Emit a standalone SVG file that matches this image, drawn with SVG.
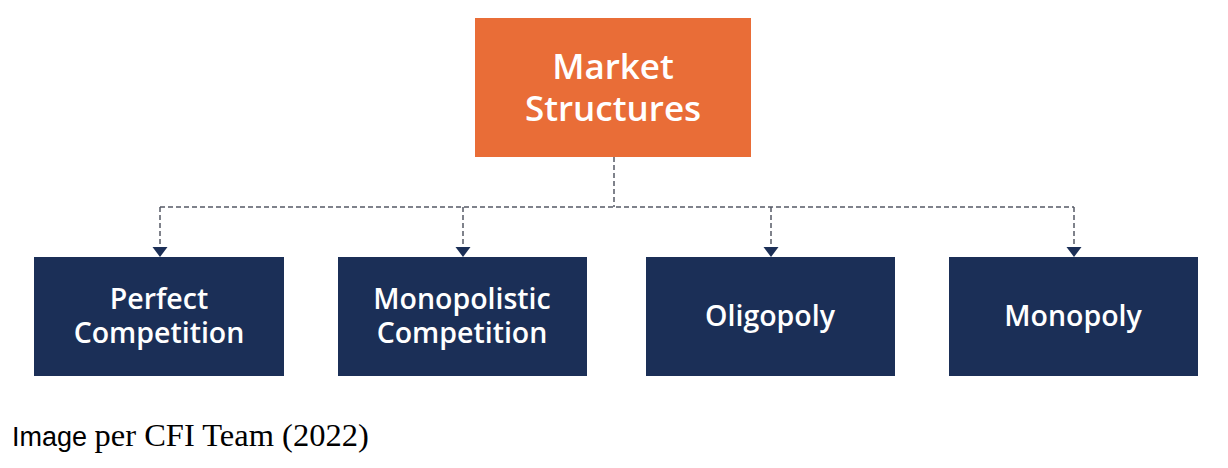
<svg xmlns="http://www.w3.org/2000/svg" width="1228" height="468" viewBox="0 0 1228 468">
<style>
.nodeText{font-family:"Open Sans","Noto Sans",sans-serif;font-weight:600;fill:#ffffff;text-anchor:middle}
.top{font-size:35px}
.sub{font-size:28.5px}
.conn{fill:none;stroke:#555a66;stroke-width:1.5;stroke-dasharray:5 3}
.navy{fill:#1b2f57}
.head{fill:#1b2f57}
</style>
<rect width="1228" height="468" fill="#ffffff"/>
<g id="connectors">
<path class="conn" d="M614,157 V207"/>
<path class="conn" d="M160,207 H1074"/>
<path class="conn" d="M160,207 V247"/>
<path class="conn" d="M463,207 V247"/>
<path class="conn" d="M771,207 V247"/>
<path class="conn" d="M1074,207 V247"/>
<path class="head" d="M152.5,247 L167.5,247 L160,257 Z"/>
<path class="head" d="M455.5,247 L470.5,247 L463,257 Z"/>
<path class="head" d="M763.5,247 L778.5,247 L771,257 Z"/>
<path class="head" d="M1066.5,247 L1081.5,247 L1074,257 Z"/>
</g>
<g id="market-structures">
<rect x="475" y="18" width="276" height="139" fill="#e96d37"/>
<text class="nodeText top"><tspan x="613" y="79">Market</tspan><tspan x="613" y="121">Structures</tspan></text>
</g>
<g id="perfect-competition">
<rect class="navy" x="34" y="257" width="250" height="119"/>
<text class="nodeText sub"><tspan x="159" y="309">Perfect</tspan><tspan x="159" y="343">Competition</tspan></text>
</g>
<g id="monopolistic-competition">
<rect class="navy" x="338" y="257" width="249" height="119"/>
<text class="nodeText sub"><tspan x="462" y="309">Monopolistic</tspan><tspan x="462" y="343">Competition</tspan></text>
</g>
<g id="oligopoly">
<rect class="navy" x="646" y="257" width="249" height="119"/>
<text class="nodeText sub" x="770" y="326">Oligopoly</text>
</g>
<g id="monopoly">
<rect class="navy" x="949" y="257" width="249" height="119"/>
<text class="nodeText sub" x="1073" y="326">Monopoly</text>
</g>
<text x="12" y="446" fill="#000000"><tspan font-size="27" font-family="'Liberation Sans',Arial,sans-serif">Image </tspan><tspan font-size="32.5" font-family="'Liberation Serif','Times New Roman',serif">per CFI Team (2022)</tspan></text>
</svg>
